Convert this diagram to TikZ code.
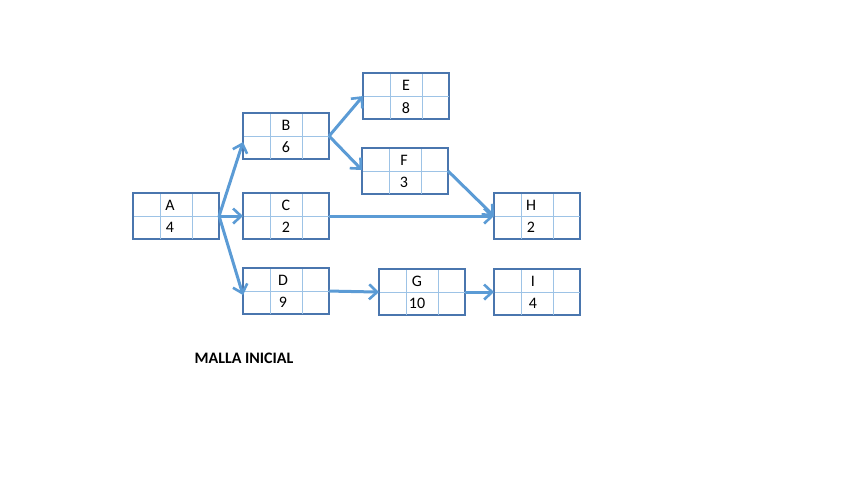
\documentclass[tikz,border=0pt]{standalone}
\usepackage{fontspec}
\setmainfont{Carlito}
\usetikzlibrary{arrows.meta}
\definecolor{boxc}{HTML}{4A76AE}
\definecolor{innerc}{HTML}{9DC3E6}
\definecolor{arrc}{HTML}{5B9BD5}
\tikzset{
  actbox/.style={draw=boxc, line width=1.1pt, minimum width=85pt, minimum height=45pt, inner sep=0pt, anchor=north west},
  innerln/.style={draw=innerc, line width=1pt},
  lbl/.style={font=\fontsize{16}{18}\selectfont, inner sep=0pt},
  conn/.style={draw=arrc, line width=3pt, -{Straight Barb[length=8pt,width=15pt,line width=2.6pt]}},
}
\newcommand\mkbox[6]{%
  \node[actbox] (#1) at (#2,#3) {};
  \draw[innerln] ([xshift=27pt]#1.north west) -- ([xshift=27pt]#1.south west);
  \draw[innerln] ([xshift=59pt]#1.north west) -- ([xshift=59pt]#1.south west);
  \draw[innerln] (#1.west) -- (#1.east);
  \draw[boxc, line width=1.1pt] (#1.north west) rectangle (#1.south east);
  \node[lbl] (#1l) at ([xshift=#6pt,yshift=-12pt]#1.north west) {#4};
  \node[lbl] (#1n) at ([xshift=#6pt,yshift=11.5pt]#1.south west) {#5};
}
\begin{document}
\begin{tikzpicture}[x=1pt,y=-1pt]
\useasboundingbox (0,0) rectangle (848,477);
\mkbox{A}{133}{193}{A}{4}{37}
\mkbox{B}{243}{113}{B}{6}{43}
\mkbox{C}{243}{193}{C}{2}{43}
\mkbox{D}{243}{268}{D}{9}{40}
\mkbox{E}{363}{73}{E}{8}{43}
\mkbox{F}{362}{148}{F}{3}{42}
\mkbox{H}{494}{193}{H}{2}{37}
\mkbox{G}{379}{269}{G}{10}{38}
\mkbox{I}{494}{269}{I}{4}{39}
\coordinate (Bin) at ([yshift=-6pt]B.west);
\coordinate (Din) at ([yshift=-4pt]D.west);
\coordinate (Fin) at ([yshift=1pt]F.west);
\draw[conn] (A.east) -- (Bin);
\draw[conn] (A.east) -- (C.west);
\draw[conn] (A.east) -- (Din);
\draw[conn] (B.east) -- (E.west);
\draw[conn] (B.east) -- (Fin);
\draw[conn] (F.east) -- (H.west);
\draw[conn] (C.east) -- (H.west);
\draw[conn] (D.east) -- (G.west);
\draw[conn] (G.east) -- (I.west);
\node[font=\bfseries\fontsize{16}{18}\selectfont, inner sep=0pt] (title) at (244,358) {MALLA INICIAL};
\end{tikzpicture}
\end{document}
